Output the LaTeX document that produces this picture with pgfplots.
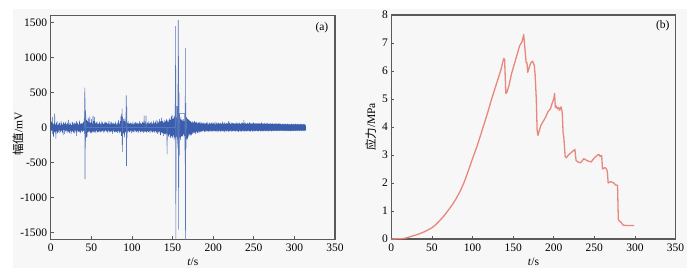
\documentclass[border=0pt]{standalone}
\usepackage{fontspec}
\setmainfont{Liberation Serif}
\newfontfamily\cjk{Noto Sans CJK SC}
\usepackage{pgfplots}
\pgfplotsset{compat=1.18}
\usepackage{pgfplotstable}
\definecolor{sigblue}{HTML}{3A5DAE}
\definecolor{stressred}{HTML}{E8877E}
\definecolor{axgray}{HTML}{5A5A5A}
\definecolor{bggray}{HTML}{F7F7F7}

\pgfplotstableread[row sep=\\]{
y\\
30\\-55\\80\\-40\\150\\-90\\60\\-130\\45\\-70\\200\\-60\\40\\-160\\70\\-50\\90\\-80\\35\\-65\\
55\\-40\\70\\-85\\30\\-60\\95\\-45\\60\\-70\\40\\-110\\75\\-35\\50\\-90\\65\\-55\\85\\-40\\
45\\-75\\60\\-50\\110\\-65\\40\\-80\\70\\-45\\55\\-95\\35\\-60\\80\\-50\\65\\-70\\45\\-85\\
70\\-40\\55\\-65\\90\\-120\\60\\-45\\75\\-55\\40\\-70\\100\\-60\\50\\-80\\65\\-45\\55\\-65\\
60\\-50\\80\\-45\\120\\-90\\250\\-200\\180\\-150\\110\\-130\\90\\-70\\140\\-60\\75\\-55\\160\\-80\\
65\\-70\\120\\-85\\55\\-60\\170\\-60\\90\\-75\\150\\-55\\60\\-80\\70\\-45\\85\\-65\\50\\-70\\
55\\-60\\80\\-50\\65\\-70\\45\\-55\\90\\-60\\70\\-45\\50\\-75\\60\\-55\\85\\-40\\65\\-60\\
75\\-50\\55\\-80\\60\\-45\\95\\-60\\45\\-70\\70\\-55\\80\\-60\\50\\-90\\65\\-45\\60\\-65\\
50\\-70\\85\\-55\\60\\-65\\40\\-75\\70\\-50\\110\\-60\\55\\-80\\90\\-60\\160\\-120\\200\\-250\\
150\\-100\\120\\-80\\90\\-140\\130\\-70\\80\\-60\\70\\-90\\65\\-50\\95\\-55\\60\\-70\\55\\-60\\
70\\-45\\60\\-75\\50\\-55\\85\\-60\\45\\-70\\65\\-40\\80\\-55\\55\\-65\\75\\-50\\60\\-80\\
55\\-60\\90\\-45\\60\\-70\\70\\-55\\50\\-65\\80\\-50\\65\\-75\\170\\-60\\60\\-55\\85\\-65\\
45\\-70\\75\\-50\\60\\-65\\90\\-55\\55\\-80\\70\\-45\\85\\-60\\50\\-70\\65\\-55\\100\\-60\\
60\\-75\\80\\-50\\110\\-70\\55\\-90\\95\\-60\\70\\-85\\120\\-60\\85\\-110\\90\\-70\\140\\-80\\
90\\-80\\70\\-120\\110\\-90\\80\\-100\\95\\-85\\120\\-110\\100\\-90\\80\\-130\\110\\-100\\130\\-150\\
110\\-140\\160\\-120\\180\\-150\\120\\-110\\140\\-180\\170\\-140\\120\\-160\\150\\-130\\140\\-170\\130\\-150\\
140\\-170\\150\\-140\\120\\-180\\150\\-130\\110\\-120\\100\\-130\\120\\-100\\90\\-120\\110\\-150\\180\\-160\\
150\\-180\\130\\-160\\120\\-130\\110\\-100\\100\\-120\\90\\-100\\80\\-110\\75\\-90\\90\\-70\\70\\-85\\
90\\-70\\80\\-95\\70\\-60\\85\\-75\\60\\-80\\75\\-55\\65\\-70\\80\\-60\\55\\-65\\70\\-50\\
60\\-55\\75\\-45\\50\\-65\\70\\-50\\55\\-60\\65\\-45\\80\\-55\\45\\-60\\60\\-50\\70\\-55\\
55\\-45\\60\\-60\\75\\-50\\50\\-55\\65\\-45\\70\\-60\\45\\-50\\80\\-55\\55\\-45\\60\\-65\\
70\\-50\\55\\-45\\60\\-55\\65\\-60\\50\\-45\\85\\-55\\60\\-50\\55\\-65\\75\\-45\\50\\-55\\
60\\-55\\70\\-45\\55\\-60\\90\\-50\\65\\-55\\50\\-45\\75\\-60\\55\\-50\\65\\-55\\60\\-45\\
55\\-50\\65\\-60\\50\\-45\\70\\-55\\60\\-50\\55\\-65\\75\\-45\\60\\-50\\50\\-55\\65\\-60\\
70\\-45\\60\\-55\\110\\-50\\55\\-60\\65\\-45\\50\\-55\\70\\-50\\60\\-45\\55\\-60\\75\\-50\\
60\\-55\\50\\-45\\65\\-60\\55\\-50\\70\\-45\\60\\-55\\50\\-50\\65\\-45\\55\\-55\\60\\-50\\
55\\-50\\65\\-45\\50\\-55\\60\\-50\\70\\-45\\55\\-55\\60\\-50\\50\\-45\\65\\-55\\55\\-50\\
60\\-45\\55\\-50\\65\\-55\\50\\-45\\55\\-50\\60\\-45\\50\\-55\\55\\-45\\60\\-50\\50\\-45\\
55\\-50\\50\\-45\\60\\-50\\55\\-45\\50\\-50\\55\\-45\\60\\-50\\50\\-45\\55\\-50\\45\\-45\\
50\\-45\\55\\-50\\45\\-45\\50\\-50\\55\\-45\\45\\-50\\50\\-45\\55\\-50\\45\\-45\\50\\-50\\
45\\-50\\50\\-45\\55\\-50\\45\\-45\\50\\-50\\45\\-45\\50\\-50\\55\\-45\\45\\-50\\50\\-45\\
45\\-45\\50\\-50\\45\\-45\\50\\-45\\45\\-50\\50\\-45\\45\\-45\\50\\-50\\45\\-45\\40\\-40\\
}\noise

\pgfplotsset{
  panel/.style={
    scale only axis, width=284.3pt, height=223.6pt,
    axis line style={draw=axgray, line width=1.1pt},
    tick align=inside, xtick pos=lower, ytick pos=left,
    major tick length=3pt,
    tick style={draw=axgray, line width=0.8pt},
    /pgf/number format/assume math mode=true,
    /pgf/number format/1000 sep={},
    tick label style={font=\fontsize{11.5}{13}\selectfont},
    label style={font=\fontsize{11.5}{13}\selectfont},
    xmin=0, xmax=350, xtick={0,50,...,350},
    xlabel={\textit{t}/s},
  }
}

\begin{document}
\begin{tikzpicture}
\path[use as bounding box] (0,0) rectangle (697pt,-276pt);
\fill[bggray] (13pt,-9pt) rectangle (687pt,-268pt);

\begin{axis}[panel, at={(50.7pt,-239.3pt)}, anchor=south west,
  ymin=-1600, ymax=1600, ytick={-1500,-1000,...,1500},
  ylabel={{\cjk 幅值}/mV},
  ylabel style={at={(axis description cs:-0.115,0.471)}, anchor=center},
  xlabel style={at={(axis description cs:0.5,0)}, anchor=center, yshift=-22.5pt},
  xticklabel style={yshift=-1pt},
]
\addplot[sigblue, line width=0.5pt] table[x expr=\coordindex*0.4915, y=y] {\noise};
\addplot[sigblue!85!white, line width=0.55pt] coordinates {
(41.5,0)(41.8,300)(42.0,570)(42.2,-740)(42.4,420)(42.6,-300)(42.8,250)(43.0,-150)(43.3,100)(43.6,0)
(87.5,0)(88,270)(88.3,-350)(88.6,150)(89,0)
(92.5,0)(93,460)(93.3,-550)(93.6,300)(94,-150)(94.4,0)
(117,0)(117.3,170)(117.6,0)
(143,0)(143.3,-380)(143.6,0)
(153,0)(153.5,470)(153.9,1450)(154.0,-1700)(154.3,-650)(154.6,300)
(156,300)(156.5,-300)(157,1540)(157.2,-1460)(157.5,1025)(157.8,-860)(158,500)(158.3,-400)(158.6,200)
(165,200)(165.5,-520)(165.8,1140)(166,-1700)(166.3,350)(166.6,-300)(167,150)(167.5,0)
};
\node[font=\fontsize{11.5}{13}\selectfont] at (rel axis cs:0.954,0.948) {(a)};
\end{axis}

\begin{axis}[panel, at={(391.3pt,-239pt)}, anchor=south west, height=224pt,
  ymin=0, ymax=8, ytick={0,1,...,8},
  ylabel={{\cjk 应力}/MPa},
  ylabel style={at={(axis description cs:-0.0724,0.5)}, anchor=center},
  xlabel style={at={(axis description cs:0.5,0)}, anchor=center, yshift=-23pt},
  xticklabel style={yshift=-1pt},
]
\addplot[stressred, line width=1.3pt, line join=round] coordinates {
(0,0)(10,0.01)(15,0.02)(20,0.05)(25,0.1)(30,0.14)(35,0.19)(40,0.25)(45,0.32)(50,0.4)
(55,0.52)(60,0.67)(65,0.83)(70,1.02)(75,1.22)(80,1.45)(85,1.72)(90,2.05)(95,2.45)(100,2.87)
(106,3.35)(112,3.9)(118,4.45)(123,4.95)(129,5.5)(135,6.05)(137.5,6.35)(138.5,6.45)(139.5,6.4)(141,5.2)
(142.5,5.25)(145,5.5)(148,5.9)(150,6.1)(152,6.3)(155,6.6)(158,6.9)(161,7.05)(163,7.3)(164.5,6.8)
(166,6.3)(167,6.3)(168,5.95)(170,6.15)(172,6.3)(174,6.35)(176,6.2)(177,5.9)(178.5,5.0)(179.5,3.9)
(180.5,3.7)(182,3.85)(184,4.05)(187,4.2)(190,4.35)(193,4.55)(196,4.65)(198,4.85)(200,5.0)(201,5.2)
(202,4.7)(203,4.75)(204.5,4.65)(206,4.7)(207,4.6)(209,4.72)(210.5,4.5)(211.5,3.8)(212.5,3.6)(214,2.95)
(215.5,2.9)(218,3.0)(222,3.1)(226,3.2)(227.5,2.8)(230,2.75)(233,2.72)(237,2.87)(241,2.8)(246,2.75)
(250,2.9)(254,3.0)(256,3.02)(257,2.95)(259,2.98)(260,2.5)(263,2.55)(265,2.5)(266,2.4)(267,2.0)
(270,2.05)(274,2.0)(276,1.93)(278.5,1.92)(279.5,0.7)(281,0.63)(283,0.6)(285,0.5)(290,0.48)(299,0.48)
};
\node[font=\fontsize{11.5}{13}\selectfont] at (rel axis cs:0.955,0.95) {(b)};
\end{axis}
\end{tikzpicture}
\end{document}
